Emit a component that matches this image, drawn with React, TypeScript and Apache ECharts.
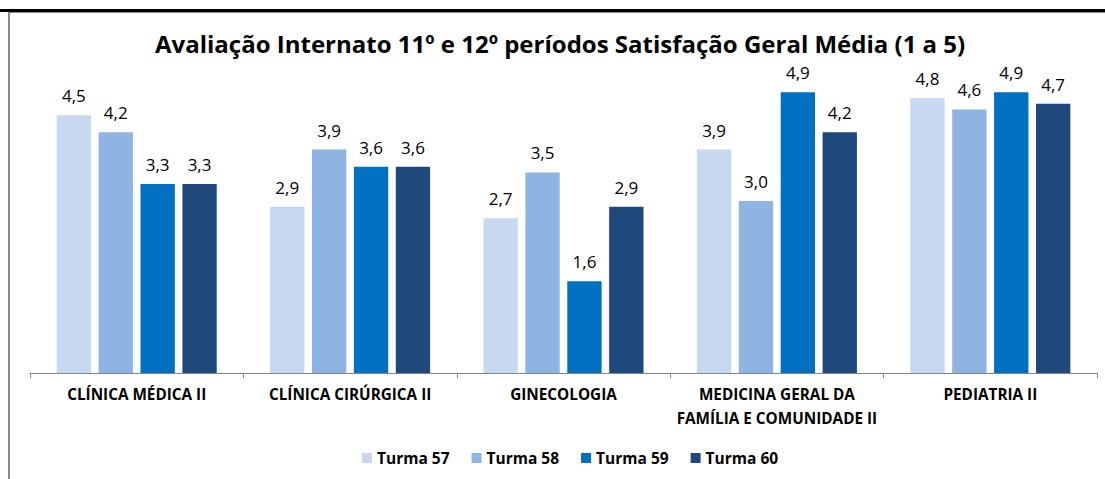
import React, { useEffect, useRef } from "react";
import * as echarts from "echarts";

const categories = [
  "CLÍNICA MÉDICA II",
  "CLÍNICA CIRÚRGICA II",
  "GINECOLOGIA",
  "MEDICINA GERAL DA\nFAMÍLIA E COMUNIDADE II",
  "PEDIATRIA II",
];
const seriesNames = ["Turma 57", "Turma 58", "Turma 59", "Turma 60"];
const turma57 = [4.5, 2.9, 2.7, 3.9, 4.8];
const turma58 = [4.2, 3.9, 3.5, 3.0, 4.6];
const turma59 = [3.3, 3.6, 1.6, 4.9, 4.9];
const turma60 = [3.3, 3.6, 2.9, 4.2, 4.7];
const colors = ["#C6D9F1", "#8EB4E3", "#0070C0", "#1F497D"];
const titleText = "Avaliação Internato 11º e 12º períodos Satisfação Geral Média (1 a 5)";

const FONT = "Open Sans";

export default function App() {
  const ref = useRef<HTMLDivElement>(null);
  useEffect(() => {
    if (!ref.current) return;
    const chart = echarts.init(ref.current, undefined, { renderer: "svg" });
    const data = [turma57, turma58, turma59, turma60];
    chart.setOption({
      animation: false,
      backgroundColor: "#ffffff",
      title: {
        text: titleText,
        left: 155,
        top: 31,
        padding: 0,
        textStyle: { fontFamily: FONT, fontSize: 24, fontWeight: "bold", color: "#000000" },
      },
      legend: {
        top: 450,
        left: 362,
        padding: 0,
        itemWidth: 10,
        itemHeight: 10,
        itemGap: 22,
        icon: "rect",
        textStyle: { fontFamily: FONT, fontSize: 15.5, fontWeight: "bold", color: "#000000" },
        data: seriesNames,
      },
      grid: { left: 30, right: 8, top: 86.5, bottom: 106, containLabel: false },
      xAxis: {
        type: "category",
        data: categories,
        axisLine: { lineStyle: { color: "#868686", width: 1 } },
        axisTick: { show: true, length: 5, lineStyle: { color: "#868686" } },
        axisLabel: {
          fontFamily: FONT,
          fontSize: 15.3,
          fontWeight: "bold",
          color: "#000000",
          margin: 9,
          lineHeight: 24,
          interval: 0,
        },
      },
      yAxis: {
        type: "value",
        min: 0,
        max: 5,
        show: false,
        splitLine: { show: false },
      },
      series: data.map((vals, i) => ({
        name: seriesNames[i],
        type: "bar",
        data: vals,
        barGap: "22%",
        barCategoryGap: "25%",
        itemStyle: { color: colors[i] },
        label: {
          show: true,
          position: "top",
          distance: 11,
          fontFamily: FONT,
          fontSize: 17,
          color: "#000000",
          formatter: (p: any) => Number(p.value).toFixed(1).replace(".", ","),
        },
      })),
      graphic: [
        { type: "rect", shape: { x: 0, y: 9, width: 1105, height: 3 }, style: { fill: "#000000" } },
        { type: "rect", shape: { x: 8, y: 12, width: 1097, height: 1 }, style: { fill: "#888888" } },
        { type: "rect", shape: { x: 8, y: 12, width: 2, height: 467 }, style: { fill: "#888888" } },
      ],
    });
    return () => chart.dispose();
  }, []);
  return (
    <div
      ref={ref}
      style={{ position: "fixed", left: 0, top: 0, width: 1105, height: 479 }}
    />
  );
}
